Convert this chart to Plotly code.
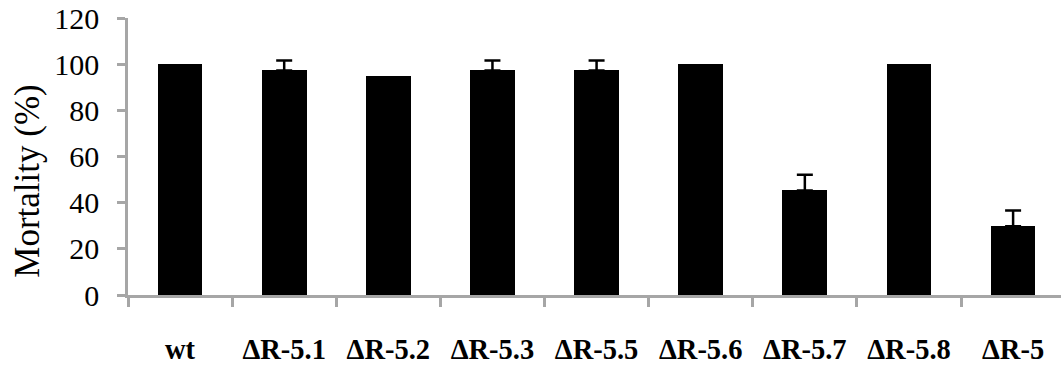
import plotly.graph_objects as go

categories = ["wt", "ΔR-5.1", "ΔR-5.2", "ΔR-5.3", "ΔR-5.5", "ΔR-5.6", "ΔR-5.7", "ΔR-5.8", "ΔR-5"]
mortality = [100, 97.3, 95, 97.3, 97.3, 100, 45.3, 100, 29.8]
error_up = [0, 4.3, 0, 4.3, 4.3, 0, 6.8, 0, 6.8]
y_ticks = [0, 20, 40, 60, 80, 100, 120]

axis_grey = "#a6a6a6"
serif = "Liberation Serif, Times New Roman, serif"

fig = go.Figure()
fig.add_trace(go.Bar(
    x=categories,
    y=mortality,
    marker=dict(color="black", line=dict(width=0)),
    width=0.43,
))

# error bars only where an error exists
idx = [i for i, e in enumerate(error_up) if e > 0]
fig.add_trace(go.Scatter(
    x=[categories[i] for i in idx],
    y=[mortality[i] for i in idx],
    mode="markers",
    marker=dict(size=0.1, color="black", opacity=0),
    error_y=dict(type="data", symmetric=False,
                 array=[error_up[i] for i in idx],
                 arrayminus=[0 for _ in idx],
                 color="black", thickness=2.5, width=8),
    hoverinfo="skip",
))

fig.update_layout(
    width=1061, height=372,
    margin=dict(l=128, r=0, t=18, b=77),
    paper_bgcolor="white", plot_bgcolor="white",
    showlegend=False,
    bargap=0,
    font=dict(family=serif, color="black"),
    annotations=[dict(
        text="Mortality (%)", textangle=-90,
        xref="paper", yref="paper", x=-0.108, y=0.41,
        xanchor="center", yanchor="middle", showarrow=False,
        font=dict(family=serif, size=35, color="black"),
    )],
)
fig.update_xaxes(
    type="category",
    range=[-0.5, 8.46],
    showline=True, linecolor=axis_grey, linewidth=2.5,
    ticks="outside", tickson="boundaries", ticklen=9,
    tickcolor=axis_grey, tickwidth=2.5,
    showgrid=False, zeroline=False,
    tickfont=dict(family=serif, size=28.5, color="black", weight="bold"),
    ticklabelstandoff=27,
)
fig.update_yaxes(
    range=[0, 120],
    tickvals=y_ticks,
    showline=True, linecolor=axis_grey, linewidth=2.5,
    ticks="outside", ticklen=8, tickcolor=axis_grey, tickwidth=2.5,
    showgrid=False, zeroline=False,
    tickfont=dict(family=serif, size=30, color="black"),
    ticklabelstandoff=12,
)

fig.write_html("out.html")
